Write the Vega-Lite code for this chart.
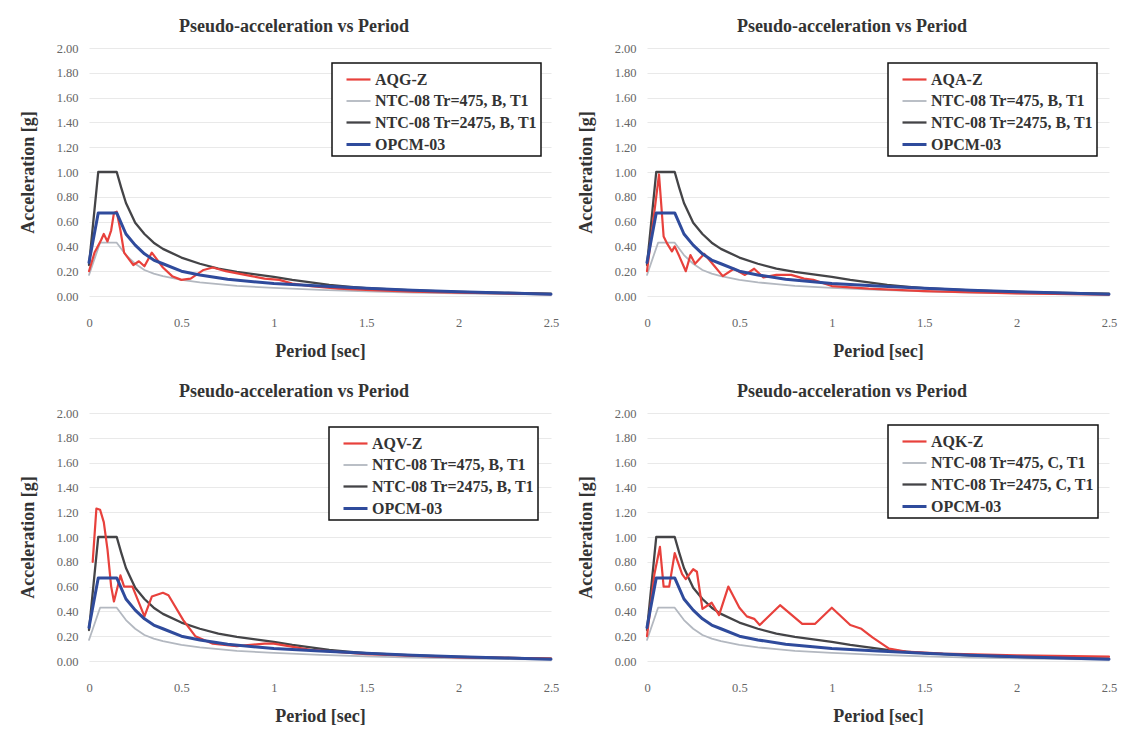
{
  "$schema": "https://vega.github.io/schema/vega-lite/v6.json",
  "background": "white",
  "padding": {"left": 19, "top": 18, "right": 5, "bottom": 5},
  "config": {
    "view": {"stroke": null},
    "font": "Liberation Serif",
    "title": {"font": "Liberation Serif", "fontSize": 18, "fontWeight": "bold", "color": "#333333", "anchor": "middle", "frame": "bounds", "offset": 6, "dx": 5},
    "axis": {
      "labelFont": "Liberation Serif", "labelFontSize": 12.5, "labelColor": "#666666",
      "titleFont": "Liberation Serif", "titleFontSize": 18, "titleFontWeight": "bold", "titleColor": "#333333",
      "domain": false, "ticks": false
    },
    "axisX": {"grid": false, "labelPadding": 20, "titlePadding": 14, "labelFlush": false, "format": "~g"},
    "axisY": {"grid": true, "gridColor": "#e9e9e9", "labelPadding": 11, "titlePadding": 19},
    "legend": {
      "orient": "none", "title": null, "strokeColor": "#111111", "strokeWidth": 1.5, "fillColor": "white", "padding": 3,
      "symbolType": "stroke", "symbolSize": 576, "symbolStrokeWidth": 2.5, "symbolOffset": 10,
      "labelFont": "Liberation Serif", "labelFontWeight": "bold", "labelFontSize": 16, "labelColor": "#333333", "labelOffset": 3, "labelLimit": 320, "rowPadding": 0
    },
    "line": {"strokeCap": "round", "strokeJoin": "round"}
  },
  "datasets": {
    "d": [
      {"p":0,"s":"NTC-08 Tr=475, B, T1","T":0,"A":0.17},{"p":0,"s":"NTC-08 Tr=475, B, T1","T":0.06,"A":0.43},{"p":0,"s":"NTC-08 Tr=475, B, T1","T":0.15,"A":0.43},{"p":0,"s":"NTC-08 Tr=475, B, T1","T":0.2,"A":0.33},{"p":0,"s":"NTC-08 Tr=475, B, T1","T":0.25,"A":0.26},{"p":0,"s":"NTC-08 Tr=475, B, T1","T":0.3,"A":0.21},{"p":0,"s":"NTC-08 Tr=475, B, T1","T":0.35,"A":0.18},{"p":0,"s":"NTC-08 Tr=475, B, T1","T":0.4,"A":0.16},{"p":0,"s":"NTC-08 Tr=475, B, T1","T":0.5,"A":0.13},{"p":0,"s":"NTC-08 Tr=475, B, T1","T":0.6,"A":0.11},{"p":0,"s":"NTC-08 Tr=475, B, T1","T":0.7,"A":0.095},{"p":0,"s":"NTC-08 Tr=475, B, T1","T":0.8,"A":0.082},{"p":0,"s":"NTC-08 Tr=475, B, T1","T":1.0,"A":0.065},{"p":0,"s":"NTC-08 Tr=475, B, T1","T":1.25,"A":0.05},{"p":0,"s":"NTC-08 Tr=475, B, T1","T":1.5,"A":0.037},{"p":0,"s":"NTC-08 Tr=475, B, T1","T":1.75,"A":0.028},{"p":0,"s":"NTC-08 Tr=475, B, T1","T":2.0,"A":0.021},{"p":0,"s":"NTC-08 Tr=475, B, T1","T":2.25,"A":0.016},{"p":0,"s":"NTC-08 Tr=475, B, T1","T":2.5,"A":0.012},

      {"p":0,"s":"NTC-08 Tr=2475, B, T1","T":0,"A":0.25},{"p":0,"s":"NTC-08 Tr=2475, B, T1","T":0.05,"A":1.0},{"p":0,"s":"NTC-08 Tr=2475, B, T1","T":0.15,"A":1.0},{"p":0,"s":"NTC-08 Tr=2475, B, T1","T":0.175,"A":0.87},{"p":0,"s":"NTC-08 Tr=2475, B, T1","T":0.2,"A":0.75},{"p":0,"s":"NTC-08 Tr=2475, B, T1","T":0.25,"A":0.59},{"p":0,"s":"NTC-08 Tr=2475, B, T1","T":0.3,"A":0.5},{"p":0,"s":"NTC-08 Tr=2475, B, T1","T":0.35,"A":0.43},{"p":0,"s":"NTC-08 Tr=2475, B, T1","T":0.4,"A":0.38},{"p":0,"s":"NTC-08 Tr=2475, B, T1","T":0.5,"A":0.31},{"p":0,"s":"NTC-08 Tr=2475, B, T1","T":0.6,"A":0.26},{"p":0,"s":"NTC-08 Tr=2475, B, T1","T":0.7,"A":0.22},{"p":0,"s":"NTC-08 Tr=2475, B, T1","T":0.8,"A":0.195},{"p":0,"s":"NTC-08 Tr=2475, B, T1","T":0.9,"A":0.175},{"p":0,"s":"NTC-08 Tr=2475, B, T1","T":1.0,"A":0.155},{"p":0,"s":"NTC-08 Tr=2475, B, T1","T":1.1,"A":0.13},{"p":0,"s":"NTC-08 Tr=2475, B, T1","T":1.2,"A":0.11},{"p":0,"s":"NTC-08 Tr=2475, B, T1","T":1.3,"A":0.09},{"p":0,"s":"NTC-08 Tr=2475, B, T1","T":1.4,"A":0.075},{"p":0,"s":"NTC-08 Tr=2475, B, T1","T":1.5,"A":0.063},{"p":0,"s":"NTC-08 Tr=2475, B, T1","T":1.75,"A":0.045},{"p":0,"s":"NTC-08 Tr=2475, B, T1","T":2.0,"A":0.033},{"p":0,"s":"NTC-08 Tr=2475, B, T1","T":2.25,"A":0.025},{"p":0,"s":"NTC-08 Tr=2475, B, T1","T":2.5,"A":0.018},

      {"p":1,"s":"AQG-Z","T":0,"A":0.2},{"p":1,"s":"AQG-Z","T":0.03,"A":0.35},{"p":1,"s":"AQG-Z","T":0.065,"A":0.45},{"p":1,"s":"AQG-Z","T":0.08,"A":0.5},{"p":1,"s":"AQG-Z","T":0.1,"A":0.44},{"p":1,"s":"AQG-Z","T":0.12,"A":0.53},{"p":1,"s":"AQG-Z","T":0.135,"A":0.67},{"p":1,"s":"AQG-Z","T":0.15,"A":0.68},{"p":1,"s":"AQG-Z","T":0.17,"A":0.53},{"p":1,"s":"AQG-Z","T":0.19,"A":0.35},{"p":1,"s":"AQG-Z","T":0.215,"A":0.3},{"p":1,"s":"AQG-Z","T":0.24,"A":0.25},{"p":1,"s":"AQG-Z","T":0.27,"A":0.28},{"p":1,"s":"AQG-Z","T":0.3,"A":0.24},{"p":1,"s":"AQG-Z","T":0.34,"A":0.35},{"p":1,"s":"AQG-Z","T":0.4,"A":0.23},{"p":1,"s":"AQG-Z","T":0.45,"A":0.16},{"p":1,"s":"AQG-Z","T":0.5,"A":0.13},{"p":1,"s":"AQG-Z","T":0.55,"A":0.14},{"p":1,"s":"AQG-Z","T":0.62,"A":0.21},{"p":1,"s":"AQG-Z","T":0.67,"A":0.23},{"p":1,"s":"AQG-Z","T":0.74,"A":0.2},{"p":1,"s":"AQG-Z","T":0.81,"A":0.18},{"p":1,"s":"AQG-Z","T":0.88,"A":0.16},{"p":1,"s":"AQG-Z","T":0.95,"A":0.14},{"p":1,"s":"AQG-Z","T":1.03,"A":0.13},{"p":1,"s":"AQG-Z","T":1.1,"A":0.1},{"p":1,"s":"AQG-Z","T":1.2,"A":0.08},{"p":1,"s":"AQG-Z","T":1.35,"A":0.06},{"p":1,"s":"AQG-Z","T":1.5,"A":0.05},{"p":1,"s":"AQG-Z","T":1.75,"A":0.035},{"p":1,"s":"AQG-Z","T":2.0,"A":0.027},{"p":1,"s":"AQG-Z","T":2.25,"A":0.02},{"p":1,"s":"AQG-Z","T":2.5,"A":0.015},

      {"p":2,"s":"AQA-Z","T":0,"A":0.2},{"p":2,"s":"AQA-Z","T":0.065,"A":0.98},{"p":2,"s":"AQA-Z","T":0.09,"A":0.48},{"p":2,"s":"AQA-Z","T":0.11,"A":0.42},{"p":2,"s":"AQA-Z","T":0.135,"A":0.36},{"p":2,"s":"AQA-Z","T":0.15,"A":0.4},{"p":2,"s":"AQA-Z","T":0.175,"A":0.32},{"p":2,"s":"AQA-Z","T":0.21,"A":0.2},{"p":2,"s":"AQA-Z","T":0.235,"A":0.33},{"p":2,"s":"AQA-Z","T":0.26,"A":0.26},{"p":2,"s":"AQA-Z","T":0.31,"A":0.34},{"p":2,"s":"AQA-Z","T":0.36,"A":0.25},{"p":2,"s":"AQA-Z","T":0.41,"A":0.16},{"p":2,"s":"AQA-Z","T":0.47,"A":0.22},{"p":2,"s":"AQA-Z","T":0.53,"A":0.17},{"p":2,"s":"AQA-Z","T":0.58,"A":0.22},{"p":2,"s":"AQA-Z","T":0.63,"A":0.15},{"p":2,"s":"AQA-Z","T":0.7,"A":0.17},{"p":2,"s":"AQA-Z","T":0.78,"A":0.17},{"p":2,"s":"AQA-Z","T":0.85,"A":0.14},{"p":2,"s":"AQA-Z","T":0.9,"A":0.13},{"p":2,"s":"AQA-Z","T":1.0,"A":0.08},{"p":2,"s":"AQA-Z","T":1.2,"A":0.06},{"p":2,"s":"AQA-Z","T":1.5,"A":0.04},{"p":2,"s":"AQA-Z","T":2.0,"A":0.02},{"p":2,"s":"AQA-Z","T":2.5,"A":0.01},

      {"p":3,"s":"AQV-Z","T":0.02,"A":0.8},{"p":3,"s":"AQV-Z","T":0.04,"A":1.23},{"p":3,"s":"AQV-Z","T":0.06,"A":1.22},{"p":3,"s":"AQV-Z","T":0.08,"A":1.12},{"p":3,"s":"AQV-Z","T":0.1,"A":0.9},{"p":3,"s":"AQV-Z","T":0.12,"A":0.6},{"p":3,"s":"AQV-Z","T":0.135,"A":0.48},{"p":3,"s":"AQV-Z","T":0.17,"A":0.69},{"p":3,"s":"AQV-Z","T":0.19,"A":0.6},{"p":3,"s":"AQV-Z","T":0.235,"A":0.6},{"p":3,"s":"AQV-Z","T":0.3,"A":0.36},{"p":3,"s":"AQV-Z","T":0.34,"A":0.52},{"p":3,"s":"AQV-Z","T":0.4,"A":0.55},{"p":3,"s":"AQV-Z","T":0.43,"A":0.53},{"p":3,"s":"AQV-Z","T":0.51,"A":0.33},{"p":3,"s":"AQV-Z","T":0.575,"A":0.2},{"p":3,"s":"AQV-Z","T":0.67,"A":0.14},{"p":3,"s":"AQV-Z","T":0.8,"A":0.12},{"p":3,"s":"AQV-Z","T":0.95,"A":0.14},{"p":3,"s":"AQV-Z","T":1.0,"A":0.14},{"p":3,"s":"AQV-Z","T":1.2,"A":0.09},{"p":3,"s":"AQV-Z","T":1.5,"A":0.055},{"p":3,"s":"AQV-Z","T":2.0,"A":0.03},{"p":3,"s":"AQV-Z","T":2.5,"A":0.02},

      {"p":4,"s":"AQK-Z","T":0,"A":0.2},{"p":4,"s":"AQK-Z","T":0.04,"A":0.7},{"p":4,"s":"AQK-Z","T":0.07,"A":0.92},{"p":4,"s":"AQK-Z","T":0.09,"A":0.6},{"p":4,"s":"AQK-Z","T":0.12,"A":0.6},{"p":4,"s":"AQK-Z","T":0.15,"A":0.87},{"p":4,"s":"AQK-Z","T":0.19,"A":0.7},{"p":4,"s":"AQK-Z","T":0.21,"A":0.66},{"p":4,"s":"AQK-Z","T":0.25,"A":0.74},{"p":4,"s":"AQK-Z","T":0.27,"A":0.72},{"p":4,"s":"AQK-Z","T":0.3,"A":0.42},{"p":4,"s":"AQK-Z","T":0.35,"A":0.47},{"p":4,"s":"AQK-Z","T":0.39,"A":0.37},{"p":4,"s":"AQK-Z","T":0.44,"A":0.6},{"p":4,"s":"AQK-Z","T":0.5,"A":0.43},{"p":4,"s":"AQK-Z","T":0.54,"A":0.36},{"p":4,"s":"AQK-Z","T":0.58,"A":0.34},{"p":4,"s":"AQK-Z","T":0.61,"A":0.29},{"p":4,"s":"AQK-Z","T":0.72,"A":0.45},{"p":4,"s":"AQK-Z","T":0.84,"A":0.3},{"p":4,"s":"AQK-Z","T":0.91,"A":0.3},{"p":4,"s":"AQK-Z","T":1.0,"A":0.43},{"p":4,"s":"AQK-Z","T":1.1,"A":0.29},{"p":4,"s":"AQK-Z","T":1.16,"A":0.26},{"p":4,"s":"AQK-Z","T":1.22,"A":0.19},{"p":4,"s":"AQK-Z","T":1.31,"A":0.1},{"p":4,"s":"AQK-Z","T":1.4,"A":0.075},{"p":4,"s":"AQK-Z","T":1.6,"A":0.06},{"p":4,"s":"AQK-Z","T":2.0,"A":0.045},{"p":4,"s":"AQK-Z","T":2.5,"A":0.035},

      {"p":0,"s":"OPCM-03","T":0,"A":0.27},{"p":0,"s":"OPCM-03","T":0.05,"A":0.67},{"p":0,"s":"OPCM-03","T":0.15,"A":0.67},{"p":0,"s":"OPCM-03","T":0.2,"A":0.5},{"p":0,"s":"OPCM-03","T":0.25,"A":0.41},{"p":0,"s":"OPCM-03","T":0.3,"A":0.34},{"p":0,"s":"OPCM-03","T":0.35,"A":0.29},{"p":0,"s":"OPCM-03","T":0.4,"A":0.26},{"p":0,"s":"OPCM-03","T":0.5,"A":0.2},{"p":0,"s":"OPCM-03","T":0.6,"A":0.17},{"p":0,"s":"OPCM-03","T":0.75,"A":0.135},{"p":0,"s":"OPCM-03","T":1.0,"A":0.1},{"p":0,"s":"OPCM-03","T":1.25,"A":0.08},{"p":0,"s":"OPCM-03","T":1.5,"A":0.062},{"p":0,"s":"OPCM-03","T":1.75,"A":0.046},{"p":0,"s":"OPCM-03","T":2.0,"A":0.035},{"p":0,"s":"OPCM-03","T":2.25,"A":0.025},{"p":0,"s":"OPCM-03","T":2.5,"A":0.015}
    ]
  },
  "resolve": {"scale": {"color": "independent", "strokeWidth": "independent"}, "legend": {"color": "independent"}},
  "spacing": 22,
  "vconcat": [
    {
      "spacing": 18,
      "resolve": {"scale": {"color": "independent", "strokeWidth": "independent"}, "legend": {"color": "independent"}},
      "hconcat": [
        {
          "width": 462, "height": 248,
          "data": {"name": "d"},
          "transform": [{"filter": "datum.p == 0 || datum.p == 1"}],
          "title": "Pseudo-acceleration vs Period",
          "mark": {"type": "line"},
          "encoding": {
            "x": {"field": "T", "type": "quantitative", "scale": {"domain": [0, 2.5], "nice": false}, "axis": {"values": [0, 0.5, 1, 1.5, 2, 2.5], "title": "Period [sec]"}},
            "y": {"field": "A", "type": "quantitative", "scale": {"domain": [0, 2], "nice": false}, "axis": {"values": [0, 0.2, 0.4, 0.6, 0.8, 1, 1.2, 1.4, 1.6, 1.8, 2], "format": ".2f", "title": "Acceleration [g]"}},
            "color": {"field": "s", "type": "nominal", "scale": {"domain": ["AQG-Z", "NTC-08 Tr=475, B, T1", "NTC-08 Tr=2475, B, T1", "OPCM-03"], "range": ["#e8413c", "#b3b8c0", "#444447", "#2f4b9c"]}, "legend": {"legendX": 243, "legendY": 15, "labelExpr": "datum.label + '\u00a0\u00a0\u00a0'"}},
            "strokeWidth": {"field": "s", "type": "nominal", "scale": {"type": "ordinal", "domain": ["AQG-Z", "NTC-08 Tr=475, B, T1", "NTC-08 Tr=2475, B, T1", "OPCM-03"], "range": [2.2, 1.8, 2.3, 3]}, "legend": null}
          }
        },
        {
          "width": 462, "height": 248,
          "data": {"name": "d"},
          "transform": [{"filter": "datum.p == 0 || datum.p == 2"}],
          "title": "Pseudo-acceleration vs Period",
          "mark": {"type": "line"},
          "encoding": {
            "x": {"field": "T", "type": "quantitative", "scale": {"domain": [0, 2.5], "nice": false}, "axis": {"values": [0, 0.5, 1, 1.5, 2, 2.5], "title": "Period [sec]"}},
            "y": {"field": "A", "type": "quantitative", "scale": {"domain": [0, 2], "nice": false}, "axis": {"values": [0, 0.2, 0.4, 0.6, 0.8, 1, 1.2, 1.4, 1.6, 1.8, 2], "format": ".2f", "title": "Acceleration [g]"}},
            "color": {"field": "s", "type": "nominal", "scale": {"domain": ["AQA-Z", "NTC-08 Tr=475, B, T1", "NTC-08 Tr=2475, B, T1", "OPCM-03"], "range": ["#e8413c", "#b3b8c0", "#444447", "#2f4b9c"]}, "legend": {"legendX": 241, "legendY": 15, "labelExpr": "datum.label + '\u00a0\u00a0\u00a0'"}},
            "strokeWidth": {"field": "s", "type": "nominal", "scale": {"type": "ordinal", "domain": ["AQA-Z", "NTC-08 Tr=475, B, T1", "NTC-08 Tr=2475, B, T1", "OPCM-03"], "range": [2.2, 1.8, 2.3, 3]}, "legend": null}
          }
        }
      ]
    },
    {
      "spacing": 18,
      "resolve": {"scale": {"color": "independent", "strokeWidth": "independent"}, "legend": {"color": "independent"}},
      "hconcat": [
        {
          "width": 462, "height": 248,
          "data": {"name": "d"},
          "transform": [{"filter": "datum.p == 0 || datum.p == 3"}],
          "title": "Pseudo-acceleration vs Period",
          "mark": {"type": "line"},
          "encoding": {
            "x": {"field": "T", "type": "quantitative", "scale": {"domain": [0, 2.5], "nice": false}, "axis": {"values": [0, 0.5, 1, 1.5, 2, 2.5], "title": "Period [sec]"}},
            "y": {"field": "A", "type": "quantitative", "scale": {"domain": [0, 2], "nice": false}, "axis": {"values": [0, 0.2, 0.4, 0.6, 0.8, 1, 1.2, 1.4, 1.6, 1.8, 2], "format": ".2f", "title": "Acceleration [g]"}},
            "color": {"field": "s", "type": "nominal", "scale": {"domain": ["AQV-Z", "NTC-08 Tr=475, B, T1", "NTC-08 Tr=2475, B, T1", "OPCM-03"], "range": ["#e8413c", "#b3b8c0", "#444447", "#2f4b9c"]}, "legend": {"legendX": 240, "legendY": 14, "labelExpr": "datum.label + '\u00a0\u00a0\u00a0'"}},
            "strokeWidth": {"field": "s", "type": "nominal", "scale": {"type": "ordinal", "domain": ["AQV-Z", "NTC-08 Tr=475, B, T1", "NTC-08 Tr=2475, B, T1", "OPCM-03"], "range": [2.2, 1.8, 2.3, 3]}, "legend": null}
          }
        },
        {
          "width": 462, "height": 248,
          "data": {"name": "d"},
          "transform": [{"filter": "datum.p == 0 || datum.p == 4"}],
          "title": "Pseudo-acceleration vs Period",
          "mark": {"type": "line"},
          "encoding": {
            "x": {"field": "T", "type": "quantitative", "scale": {"domain": [0, 2.5], "nice": false}, "axis": {"values": [0, 0.5, 1, 1.5, 2, 2.5], "title": "Period [sec]"}},
            "y": {"field": "A", "type": "quantitative", "scale": {"domain": [0, 2], "nice": false}, "axis": {"values": [0, 0.2, 0.4, 0.6, 0.8, 1, 1.2, 1.4, 1.6, 1.8, 2], "format": ".2f", "title": "Acceleration [g]"}},
            "color": {"field": "s", "type": "nominal", "scale": {"domain": ["AQK-Z", "NTC-08 Tr=475, B, T1", "NTC-08 Tr=2475, B, T1", "OPCM-03"], "range": ["#e8413c", "#b3b8c0", "#444447", "#2f4b9c"]}, "legend": {"legendX": 241, "legendY": 12, "labelExpr": "replace(datum.label, 'B, T1', 'C, T1') + '\u00a0\u00a0\u00a0'"}},
            "strokeWidth": {"field": "s", "type": "nominal", "scale": {"type": "ordinal", "domain": ["AQK-Z", "NTC-08 Tr=475, B, T1", "NTC-08 Tr=2475, B, T1", "OPCM-03"], "range": [2.2, 1.8, 2.3, 3]}, "legend": null}
          }
        }
      ]
    }
  ]
}
